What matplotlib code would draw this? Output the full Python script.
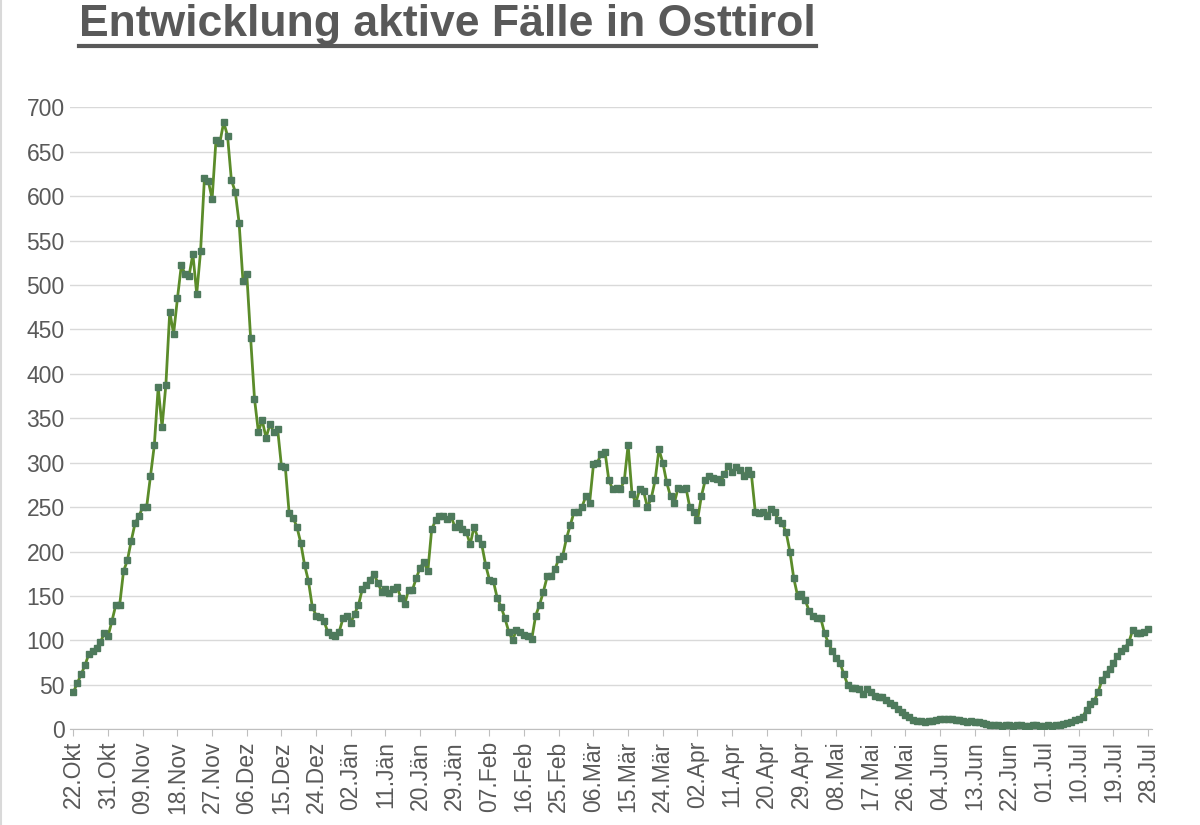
import matplotlib
matplotlib.use("Agg")
import matplotlib.pyplot as plt
import numpy as np
import datetime as dt

start = dt.date(2020, 10, 22)
values = [
 42, 52, 62, 72, 85, 88, 92, 98, 108, 105,
 122, 140, 140, 178, 190, 212, 232, 240, 250, 250,
 285, 320, 385, 340, 388, 470, 445, 485, 522, 512,
 510, 535, 490, 538, 620, 617, 597, 663, 660, 683,
 668, 618, 605, 570, 505, 512, 440, 372, 335, 348,
 328, 343, 335, 338, 296, 295, 243, 238, 228, 210,
 185, 167, 138, 128, 126, 122, 110, 106, 105, 110,
 125, 128, 120, 130, 140, 158, 162, 168, 175, 165,
 155, 158, 153, 158, 160, 148, 141, 157, 157, 170,
 182, 188, 178, 225, 235, 240, 240, 237, 240, 228,
 232, 225, 222, 208, 228, 215, 208, 185, 168, 167,
 148, 138, 125, 110, 100, 112, 110, 106, 105, 102,
 128, 140, 155, 172, 172, 180, 192, 195, 215, 230,
 245, 245, 250, 262, 255, 298, 300, 310, 312, 280,
 270, 272, 270, 280, 320, 265, 255, 270, 268, 250,
 260, 280, 315, 300, 278, 262, 255, 272, 270, 272,
 250, 245, 235, 262, 280, 285, 283, 282, 278, 287,
 296, 290, 295, 292, 285, 292, 287, 245, 243, 245,
 240, 248, 245, 235, 232, 222, 200, 170, 150, 152,
 145, 133, 128, 125, 125, 108, 97, 88, 80, 75,
 62, 50, 47, 46, 45, 40, 45, 42, 38, 36,
 36, 33, 30, 27, 23, 19, 16, 14, 10, 9,
 9, 8, 9, 9, 10, 12, 12, 12, 12, 11,
 10, 9, 8, 9, 8, 8, 7, 6, 5, 5,
 5, 4, 5, 5, 4, 5, 5, 4, 4, 5,
 5, 4, 4, 5, 4, 5, 5, 6, 7, 8,
 10, 12, 14, 22, 28, 32, 42, 55, 62, 68,
 75, 82, 88, 92, 98, 112, 108, 108, 110, 113,
]
months = {10: "Okt", 11: "Nov", 12: "Dez", 1: "Jän", 2: "Feb", 3: "Mär",
          4: "Apr", 5: "Mai", 6: "Jun", 7: "Jul"}
dates = [start + dt.timedelta(days=i) for i in range(len(values))]
x = np.arange(len(values))
tick_pos = x[::9]
tick_labels = [f"{dates[i].day:02d}.{months[dates[i].month]}" for i in tick_pos]

plt.rcParams['font.family'] = ['Liberation Sans', 'DejaVu Sans']
fig = plt.figure(figsize=(12, 8.25), dpi=100)
ax = fig.add_axes([0.058, 0.116, 0.902, 0.754])
ax.plot(x, values, color="#5b8c2a", lw=2, marker="s", ms=4.5,
        mfc="#4e7a5c", mec="#4e7a5c", zorder=3)
ax.set_xlim(-1, len(values))
ax.set_ylim(0, 700)
ax.set_yticks(range(0, 701, 50))
ax.set_xticks(tick_pos)
ax.set_xticklabels(tick_labels, rotation=90)
ax.tick_params(axis='both', labelsize=16.5, colors="#595959", length=0)
ax.tick_params(axis='x', length=5, color="#bfbfbf")
ax.grid(axis='y', color="#d9d9d9", lw=1)
for s in ['top', 'right', 'left']:
    ax.spines[s].set_visible(False)
ax.spines['bottom'].set_color("#bfbfbf")
ax.set_axisbelow(True)
t = fig.text(0.066, 0.97, "Entwicklung aktive Fälle in Osttirol", fontsize=32,
             fontweight='bold', color="#595959", va='center')
fig.canvas.draw()
bb = t.get_window_extent()
fig.add_artist(plt.Line2D([bb.x0 / fig.bbox.width, bb.x1 / fig.bbox.width],
                          [(bb.y0 - 1) / fig.bbox.height] * 2,
                          color="#595959", lw=3))
fig.add_artist(plt.Line2D([0.001, 0.001], [0, 1], color="#d9d9d9", lw=1.5))
fig.savefig("out.png")
